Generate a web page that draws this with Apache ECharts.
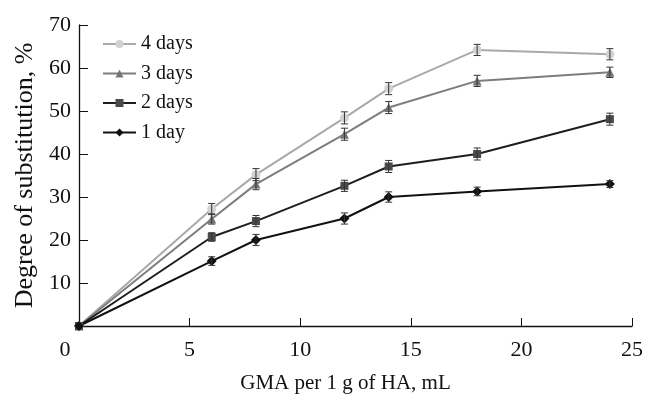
<!DOCTYPE html>
<html>
<head>
<meta charset="utf-8">
<script src="https://cdn.jsdelivr.net/npm/echarts@6/dist/echarts.min.js"></script>
<style>
  html, body { margin: 0; padding: 0; background: #fff; }
  #chart { width: 649px; height: 399px; }
</style>
</head>
<body>
<div id="chart"></div>
<script>
// GMA volume per 1 g HA, mL
const xValues = [0, 6, 8, 12, 14, 18, 24];

// degree of substitution, %
const day1 = [0, 15.1, 20.0, 25.0, 30.0, 31.3, 33.0];
const day2 = [0, 20.7, 24.4, 32.6, 37.1, 40.0, 48.1];
const day3 = [0, 24.9, 33.0, 44.6, 50.8, 57.0, 59.0];
const day4 = [0, 27.2, 35.2, 48.4, 55.2, 64.2, 63.2];

// error bar half-widths
const day1Err = [0, 1.0, 1.3, 1.3, 1.2, 1.0, 0.8];
const day2Err = [0, 1.0, 1.3, 1.3, 1.4, 1.4, 1.4];
const day3Err = [0, 1.2, 1.3, 1.4, 1.4, 1.3, 1.2];
const day4Err = [0, 1.3, 1.4, 1.4, 1.4, 1.3, 1.3];

const legendNames = ['4 days', '3 days', '2 days', '1 day'];

const font = '"Liberation Serif", "DejaVu Serif", serif';
const chart = echarts.init(document.getElementById('chart'));

function lineSeries(name, vals, lineColor, markColor, symbol, size) {
  return {
    name,
    type: 'line',
    data: xValues.map((x, i) => [x, vals[i]]),
    symbol,
    symbolSize: size,
    showSymbol: true,
    lineStyle: { color: lineColor, width: 2 },
    itemStyle: { color: markColor },
    z: 2,
  };
}

function errorSeries(name, vals, errs) {
  return {
    name: name + ' err',
    type: 'custom',
    silent: true,
    z: 3,
    encode: { x: 0, y: [1, 2] },
    data: xValues
      .map((x, i) => [x, vals[i] - errs[i], vals[i] + errs[i]])
      .filter((d, i) => errs[i] > 0),
    renderItem(params, api) {
      const lo = api.coord([api.value(0), api.value(1)]);
      const hi = api.coord([api.value(0), api.value(2)]);
      const cap = 3.5;
      const style = { stroke: '#333', lineWidth: 1 };
      return {
        type: 'group',
        children: [
          { type: 'line', shape: { x1: hi[0], y1: hi[1], x2: lo[0], y2: lo[1] }, style },
          { type: 'line', shape: { x1: hi[0] - cap, y1: hi[1], x2: hi[0] + cap, y2: hi[1] }, style },
          { type: 'line', shape: { x1: lo[0] - cap, y1: lo[1], x2: lo[0] + cap, y2: lo[1] }, style },
        ],
      };
    },
  };
}

const option = {
  animation: false,
  backgroundColor: '#fff',
  textStyle: { fontFamily: font },
  grid: { left: 79, right: 17, top: 25, bottom: 72 },
  legend: {
    data: legendNames,
    orient: 'vertical',
    left: 97,
    top: 29,
    itemWidth: 33,
    itemHeight: 10,
    itemGap: 9.5,
    textStyle: { fontFamily: font, fontSize: 20, color: '#111' },
  },
  xAxis: {
    type: 'value',
    min: 0,
    max: 25,
    interval: 5,
    name: 'GMA per 1 g of HA, mL',
    nameLocation: 'middle',
    nameGap: 47,
    nameTextStyle: { fontFamily: font, fontSize: 21, color: '#111', padding: [0, 20, 0, 0] },
    axisLine: { lineStyle: { color: '#111', width: 1.3 } },
    axisTick: { inside: true, length: 8, lineStyle: { color: '#111' } },
    axisLabel: {
      margin: 13,
      fontFamily: font,
      fontSize: 22,
      color: '#111',
      formatter: v => (v === 0 ? '{o|0}' : String(v)),
      rich: { o: { fontFamily: font, fontSize: 22, color: '#111', padding: [0, 28, 0, 0] } },
    },
    splitLine: { show: false },
  },
  yAxis: {
    type: 'value',
    min: 0,
    max: 70,
    interval: 10,
    name: 'Degree of substitution, %',
    nameLocation: 'middle',
    nameGap: 41,
    nameTextStyle: { fontFamily: font, fontSize: 26, color: '#111' },
    axisLine: { show: true, lineStyle: { color: '#111', width: 1.3 } },
    axisTick: { show: true, inside: true, length: 9, lineStyle: { color: '#111' } },
    axisLabel: {
      margin: 8,
      fontFamily: font,
      fontSize: 22,
      color: '#111',
      formatter: v => (v === 0 ? '' : String(v)),
    },
    splitLine: { show: false },
  },
  series: [
    lineSeries('4 days', day4, '#a9a9a9', '#d2d2d2', 'circle', 9),
    lineSeries('3 days', day3, '#7d7d7d', '#767676', 'triangle', 9),
    lineSeries('2 days', day2, '#1e1e1e', '#4a4a4a', 'rect', 8),
    lineSeries('1 day', day1, '#111111', '#111111', 'diamond', 10),
    errorSeries('4 days', day4, day4Err),
    errorSeries('3 days', day3, day3Err),
    errorSeries('2 days', day2, day2Err),
    errorSeries('1 day', day1, day1Err),
  ],
};

chart.setOption(option);
</script>
</body>
</html>
